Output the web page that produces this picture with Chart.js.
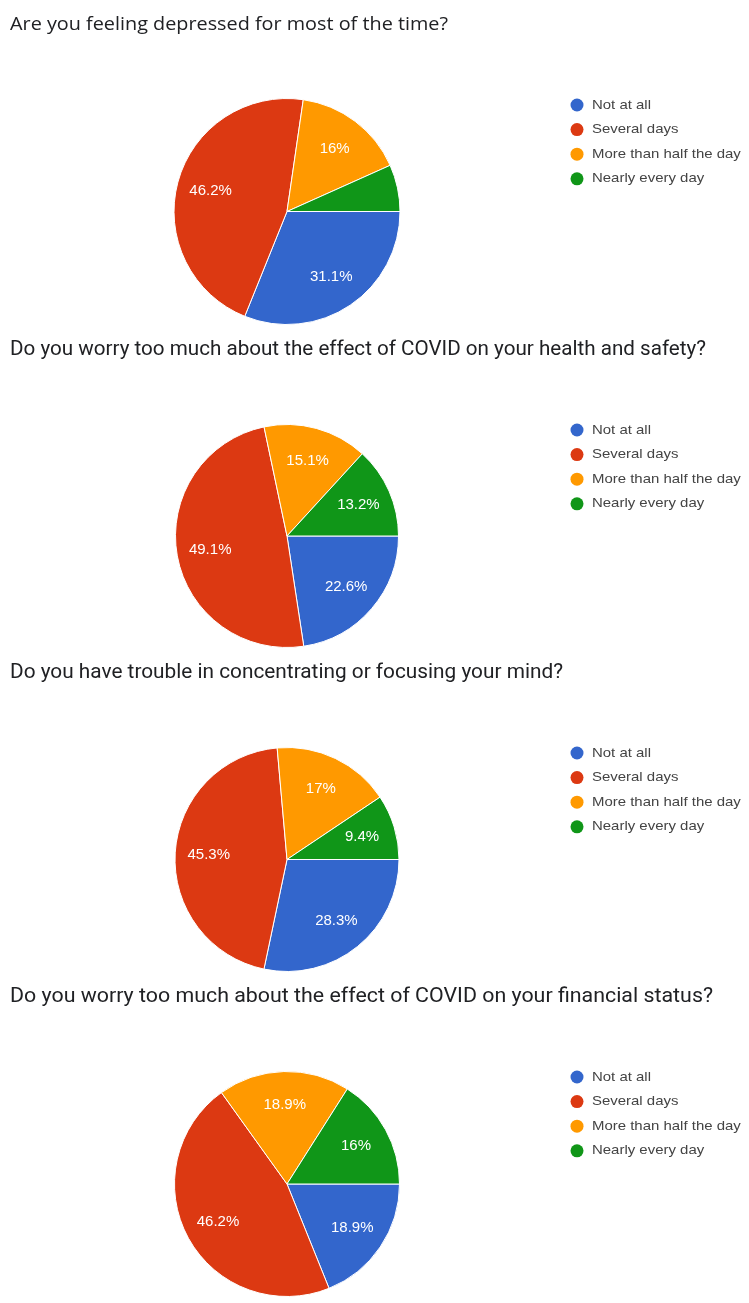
<!DOCTYPE html>
<html>
<head>
<meta charset="utf-8">
<title>Survey responses</title>
<script src="https://cdn.jsdelivr.net/npm/chart.js@4.4.1/dist/chart.umd.min.js"></script>
<style>
  html, body { margin: 0; padding: 0; background: #ffffff; }
  #page { position: relative; width: 749px; height: 1303px; overflow: hidden; }
  .panel { position: absolute; left: 0; }
</style>
</head>
<body>
<div id="page"></div>
<script>
// Answer options shared by every question
const categories = ['Not at all', 'Several days', 'More than half the day', 'Nearly every day'];

// Question texts
const questions = [
  'Are you feeling depressed for most of the time?',
  'Do you worry too much about the effect of COVID on your health and safety?',
  'Do you have trouble in concentrating or focusing your mind?',
  'Do you worry too much about the effect of COVID on your financial status?'
];

// Share of responses (%) per answer option
const depressed      = [31.1, 46.2, 16.0, 6.7];
const healthWorry    = [22.6, 49.1, 15.1, 13.2];
const concentration  = [28.3, 45.3, 17.0, 9.4];
const financialWorry = [18.9, 46.2, 18.9, 16.0];

const seriesList = [depressed, healthWorry, concentration, financialWorry];

const palette = ['#3366cc', '#dc3912', '#ff9900', '#109618'];

// Layout of each panel on the page
const panels = [
  { top: 0,   height: 325, cx: 287, cy: 212, r: 114, titleFont: '400 18px "Open Sans"', titleWidth: 438 },
  { top: 325, height: 323, cx: 287, cy: 212, r: 113, titleFont: '400 20px Roboto',      titleWidth: 696 },
  { top: 648, height: 324, cx: 287, cy: 212, r: 113, titleFont: '400 20px Roboto',      titleWidth: 553 },
  { top: 972, height: 331, cx: 287, cy: 212, r: 113, titleFont: '400 20px Roboto',      titleWidth: 703 }
];

// Draws question title, legend and percentage labels on top of the pie
const panelDecor = {
  id: 'panelDecor',
  afterDraw(chart, args, opts) {
    const ctx = chart.ctx;

    // question title
    ctx.save();
    ctx.font = opts.titleFont;
    ctx.fillStyle = '#202124';
    ctx.textAlign = 'left';
    ctx.textBaseline = 'alphabetic';
    const tw = ctx.measureText(opts.title).width;
    ctx.translate(opts.titleX, opts.titleY);
    ctx.scale(opts.titleWidth / tw, 1);
    ctx.fillText(opts.title, 0, 0);
    ctx.restore();

    // legend
    const labels = chart.data.labels;
    const colors = chart.data.datasets[0].backgroundColor;
    ctx.save();
    ctx.font = '13px "Liberation Sans", Arial, sans-serif';
    ctx.textBaseline = 'middle';
    ctx.textAlign = 'left';
    labels.forEach((lab, i) => {
      const y = opts.legendY + i * opts.legendGap;
      ctx.beginPath();
      ctx.arc(opts.legendX, y, 6.5, 0, Math.PI * 2);
      ctx.fillStyle = colors[i];
      ctx.fill();
      ctx.fillStyle = '#444444';
      ctx.save();
      ctx.translate(opts.legendX + 15, y);
      ctx.scale(1.15, 1);
      ctx.fillText(lab, 0, 0);
      ctx.restore();
    });
    ctx.restore();

    // percentage labels inside slices
    const meta = chart.getDatasetMeta(0);
    const values = chart.data.datasets[0].data;
    ctx.save();
    ctx.font = '15px "Liberation Sans", Arial, sans-serif';
    ctx.fillStyle = '#ffffff';
    ctx.textAlign = 'center';
    ctx.textBaseline = 'middle';
    meta.data.forEach((arc, i) => {
      const v = values[i];
      if (v < opts.minLabel) return;
      const p = arc.getProps(['x', 'y', 'startAngle', 'endAngle', 'outerRadius'], true);
      const mid = (p.startAngle + p.endAngle) / 2;
      const d = p.outerRadius * 0.7;
      ctx.fillText(v + '%', p.x + Math.cos(mid) * d, p.y + Math.sin(mid) * d);
    });
    ctx.restore();
  }
};

const page = document.getElementById('page');

panels.forEach((pn, k) => {
  const canvas = document.createElement('canvas');
  canvas.className = 'panel';
  canvas.width = 749;
  canvas.height = pn.height;
  canvas.style.top = pn.top + 'px';
  canvas.style.width = '749px';
  canvas.style.height = pn.height + 'px';
  page.appendChild(canvas);

  new Chart(canvas, {
    type: 'pie',
    data: {
      labels: categories,
      datasets: [{
        data: seriesList[k],
        backgroundColor: palette,
        borderColor: '#ffffff',
        borderWidth: 1
      }]
    },
    options: {
      responsive: false,
      animation: false,
      devicePixelRatio: 1,
      rotation: 90,
      layout: {
        padding: {
          left: pn.cx - pn.r,
          right: 749 - pn.cx - pn.r,
          top: pn.cy - pn.r,
          bottom: pn.height - pn.cy - pn.r
        }
      },
      plugins: {
        legend: { display: false },
        title: { display: false },
        tooltip: { enabled: false },
        panelDecor: {
          title: questions[k],
          titleFont: pn.titleFont,
          titleWidth: pn.titleWidth,
          titleX: 10,
          titleY: pn.cy - 182,
          legendX: 577,
          legendY: pn.cy - 107,
          legendGap: 24.6,
          minLabel: 8
        }
      }
    },
    plugins: [panelDecor]
  });
});
</script>
</body>
</html>
